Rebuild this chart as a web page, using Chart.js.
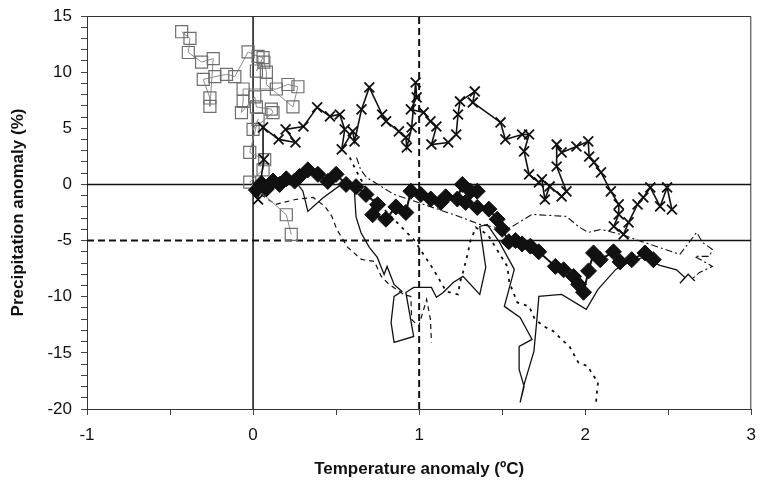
<!DOCTYPE html>
<html>
<head>
<meta charset="utf-8">
<script src="https://cdn.jsdelivr.net/npm/chart.js@4.4.1/dist/chart.umd.min.js"></script>
<style>
  html, body { margin: 0; padding: 0; background: #fff; }
  canvas { display: block; }
</style>
</head>
<body>
<canvas id="chart" width="761" height="488"></canvas>
<script>
// ---- Data ----
const xTicks = [-1, 0, 1, 2, 3];
const yTicks = [-20, -15, -10, -5, 0, 5, 10, 15];
const baseTemp = 0, limitTemp = 1;
const basePrecip = 0, limitPrecip = -5;

// open squares
const squareTemp = [0.23, 0.20, -0.02, 0.06, 0.07, -0.02, 0.03, 0.00, 0.12, 0.11, 0.02, 0.01, -0.07, -0.06, -0.06, 0.14, 0.21, 0.27, 0.24, 0.08, 0.08, 0.065, 0.02, 0.06, 0.03, -0.03, -0.11, -0.16, -0.23, -0.30, -0.26, -0.26, -0.24, -0.31, -0.39, -0.38, -0.43];
const squarePrecip = [-4.45, -2.7, 0.2, 1.3, 2.2, 2.85, 5.8, 4.9, 6.4, 6.7, 6.9, 7.8, 6.4, 7.4, 8.5, 8.5, 8.9, 8.7, 6.9, 8.9, 10.0, 10.9, 10.1, 11.3, 11.4, 11.8, 9.6, 9.8, 9.6, 9.35, 7.7, 6.95, 11.2, 10.9, 11.75, 13.0, 13.6];

// filled diamonds
const diamondTemp = [0.02, 0.05, 0.08, 0.12, 0.16, 0.20, 0.25, 0.28, 0.33, 0.39, 0.45, 0.50, 0.56, 0.62, 0.68, 0.75, 0.72, 0.80, 0.86, 0.92, 0.95, 1.01, 1.07, 1.13, 1.16, 1.23, 1.26, 1.31, 1.35, 1.28, 1.35, 1.42, 1.47, 1.50, 1.54, 1.58, 1.62, 1.67, 1.72, 1.82, 1.87, 1.93, 1.96, 1.99, 2.02, 2.05, 2.09, 2.17, 2.21, 2.28, 2.36, 2.41];
const diamondPrecip = [-0.5, 0.1, -0.4, 0.3, 0.0, 0.5, 0.3, 0.7, 1.3, 0.9, 0.27, 0.9, 0.0, -0.2, -0.9, -1.8, -2.7, -3.1, -2.0, -2.5, -0.6, -0.9, -1.3, -1.6, -1.1, -1.3, 0.0, -0.6, -0.6, -1.6, -2.05, -2.2, -3.1, -4.0, -5.1, -5.0, -5.3, -5.5, -6.0, -7.3, -7.6, -8.2, -8.9, -9.6, -7.7, -6.1, -6.7, -6.0, -6.9, -6.7, -6.1, -6.7];

// crosses
const crossTemp = [0.03, 0.065, 0.06, 0.154, 0.255, 0.196, 0.303, 0.386, 0.463, 0.522, 0.552, 0.534, 0.60, 0.611, 0.653, 0.70, 0.777, 0.801, 0.878, 0.92, 0.926, 0.955, 0.979, 0.985, 0.95, 1.027, 1.068, 1.104, 1.074, 1.175, 1.223, 1.234, 1.246, 1.335, 1.323, 1.49, 1.519, 1.62, 1.662, 1.632, 1.662, 1.721, 1.739, 1.757, 1.786, 1.858, 1.887, 1.828, 1.828, 1.858, 1.947, 2.018, 2.024, 2.053, 2.095, 2.154, 2.202, 2.202, 2.172, 2.231, 2.261, 2.315, 2.35, 2.392, 2.451, 2.493, 2.522];
const crossPrecip = [-1.34, 2.23, 5.08, 4.01, 3.74, 4.9, 5.16, 6.86, 6.06, 6.23, 4.9, 3.12, 4.72, 3.83, 6.68, 8.64, 6.23, 5.61, 4.72, 4.19, 3.29, 5.08, 9.08, 7.75, 6.68, 6.41, 5.61, 5.16, 3.56, 3.74, 4.45, 6.23, 7.39, 8.28, 7.3, 5.52, 4.01, 4.45, 4.45, 2.94, 0.89, 0.18, 0.45, -1.34, -0.18, -1.07, -0.62, 1.6, 3.56, 2.85, 3.38, 3.83, 2.49, 1.96, 1.07, -0.62, -1.78, -2.67, -3.74, -4.45, -3.38, -1.78, -1.16, -0.27, -1.96, -0.27, -2.23];

// solid line
const solidTemp = [0.02, 0.15, 0.26, 0.30, 0.33, 0.42, 0.55, 0.61, 0.62, 0.65, 0.70, 0.748, 0.789, 0.807, 0.849, 0.896, 0.849, 0.831, 0.849, 0.967, 0.92, 0.967, 1.074, 1.104, 1.145, 1.205, 1.264, 1.365, 1.401, 1.365, 1.41, 1.484, 1.573, 1.513, 1.608, 1.68, 1.602, 1.602, 1.632, 1.608, 1.632, 1.691, 1.709, 1.721, 1.858, 2.006, 2.077, 2.184, 2.273, 2.35, 2.45, 2.55, 2.60, 2.57, 2.62, 2.66];
const solidPrecip = [0.0, 0.4, 0.2, -0.6, -2.4, -1.2, 0.2, -0.6, -2.9, -4.3, -5.6, -6.5, -8.01, -7.3, -8.9, -9.53, -9.97, -12.29, -14.07, -13.54, -9.62, -9.17, -9.17, -10.06, -9.62, -8.73, -8.19, -9.8, -7.39, -3.74, -3.56, -5.16, -7.57, -10.86, -11.84, -13.8, -14.43, -16.47, -17.99, -19.41, -17.8, -14.87, -12.02, -9.97, -9.8, -11.13, -9.35, -7.57, -6.86, -6.5, -7.2, -7.6, -8.3, -8.8, -8.0, -8.6];

// short dashed line
const dashATemp = [0.047, 0.136, 0.255, 0.362, 0.433, 0.475, 0.504, 0.57, 0.653, 0.73, 0.772, 0.819, 0.908, 0.95, 0.955, 0.997, 1.045, 1.068, 1.074];
const dashAPrecip = [-0.89, -1.78, -1.34, -1.16, -1.96, -2.85, -4.01, -5.61, -6.68, -6.86, -8.19, -8.9, -9.8, -9.97, -12.02, -12.64, -10.24, -12.02, -14.07];

// dotted line
const dashBTemp = [0.582, 0.623, 0.70, 0.819, 0.967, 1.086, 1.163, 1.234, 1.246, 1.264, 1.294, 1.306, 1.341, 1.412, 1.531, 1.543, 1.591, 1.662, 1.697, 1.751, 1.81, 1.858, 1.905, 1.958, 2.018, 2.036, 2.077, 2.071, 2.065];
const dashBPrecip = [2.4, 1.16, -0.89, -2.67, -4.9, -7.57, -9.53, -9.8, -8.73, -7.84, -6.06, -5.16, -3.83, -4.45, -7.3, -8.73, -10.51, -10.86, -12.02, -12.64, -13.09, -13.8, -14.43, -15.85, -16.21, -16.74, -17.63, -18.43, -19.41];

// long dashed line
const dashCTemp = [0.623, 0.647, 0.683, 0.849, 1.027, 1.205, 1.365, 1.531, 1.68, 1.887, 1.958, 2.018, 2.095, 2.214, 2.392, 2.57, 2.671, 2.706, 2.766, 2.748, 2.659, 2.766, 2.688, 2.641];
const dashCPrecip = [2.4, 1.34, 0.62, -0.89, -1.78, -2.67, -3.56, -4.01, -2.67, -2.85, -3.74, -4.27, -4.01, -4.45, -5.34, -6.23, -4.27, -5.16, -5.79, -6.41, -6.41, -7.3, -7.84, -8.46];

// ---- Helpers ----
const pts = (xs, ys) => xs.map((x, i) => ({ x: x, y: ys[i] }));
const xMin = xTicks[0], xMax = xTicks[xTicks.length - 1];
const yMin = yTicks[0], yMax = yTicks[yTicks.length - 1];
const ink = '#111';

function refLine(data, dash, width) {
  return {
    data: data, showLine: true, pointRadius: 0, borderColor: ink,
    borderWidth: width, borderDash: dash, order: 20
  };
}
function trace(data, dash, width) {
  return {
    data: data, showLine: true, pointRadius: 0, borderColor: ink,
    borderWidth: width, borderDash: dash, order: 10
  };
}

// top + right frame of the plot box
const frame = {
  id: 'frame',
  afterDraw(chart) {
    const { ctx, chartArea: a } = chart;
    ctx.save();
    ctx.strokeStyle = '#333';
    ctx.lineWidth = 1;
    ctx.beginPath();
    ctx.moveTo(a.left, a.top + 0.5);
    ctx.lineTo(a.right - 0.5, a.top + 0.5);
    ctx.lineTo(a.right - 0.5, a.bottom);
    ctx.stroke();
    ctx.restore();
  }
};

Chart.defaults.font.family = "'Liberation Sans', Arial, sans-serif";
Chart.defaults.color = '#111';

new Chart(document.getElementById('chart'), {
  type: 'scatter',
  data: {
    datasets: [
      // reference lines
      refLine([{ x: baseTemp, y: yMin }, { x: baseTemp, y: yMax }], [], 1.5),
      refLine([{ x: xMin, y: basePrecip }, { x: xMax, y: basePrecip }], [], 1.5),
      refLine([{ x: limitTemp, y: yMin }, { x: limitTemp, y: yMax }], [7, 4], 2),
      refLine([{ x: xMin, y: limitPrecip }, { x: limitTemp, y: limitPrecip }], [7, 4], 2),
      refLine([{ x: limitTemp, y: limitPrecip }, { x: xMax, y: limitPrecip }], [], 1.5),
      // plain traces
      trace(pts(dashCTemp, dashCPrecip), [7, 3, 2, 3], 1.1),
      trace(pts(dashBTemp, dashBPrecip), [3, 5], 1.8),
      trace(pts(dashATemp, dashAPrecip), [5, 4], 1.2),
      trace(pts(solidTemp, solidPrecip), [], 1.3),
      {
        data: pts(squareTemp, squarePrecip), showLine: true,
        borderColor: '#8c8c8c', borderWidth: 1,
        pointStyle: 'rect', pointRadius: 8.5,
        pointBackgroundColor: 'rgba(255,255,255,0)',
        pointBorderColor: '#6e6e6e', pointBorderWidth: 1.2, order: 5
      },
      {
        data: pts(crossTemp, crossPrecip), showLine: true,
        borderColor: ink, borderWidth: 1.6,
        pointStyle: 'crossRot', pointRadius: 7,
        pointBorderColor: ink, pointBorderWidth: 1.8, order: 3
      },
      {
        data: pts(diamondTemp, diamondPrecip), showLine: true,
        borderColor: ink, borderWidth: 2,
        pointStyle: 'rectRot', pointRadius: 8,
        pointBackgroundColor: ink, pointBorderColor: ink, pointBorderWidth: 1, order: 1
      }
    ]
  },
  options: {
    responsive: false,
    animation: false,
    devicePixelRatio: 1,
    layout: { padding: { top: 16, right: 2, left: 0, bottom: 0 } },
    plugins: { legend: { display: false }, tooltip: { enabled: false } },
    scales: {
      x: {
        type: 'linear', min: xMin, max: xMax,
        afterFit: (s) => { s.height = 79; s.paddingLeft = 0; s.paddingRight = 0; },
        grid: { drawOnChartArea: false, drawTicks: true, tickLength: 6, color: '#444' },
        border: { color: '#333', width: 1 },
        ticks: {
          stepSize: 0.5, autoSkip: false, maxRotation: 0, padding: 10,
          font: { size: 17 }, color: '#111',
          callback: (v) => xTicks.includes(v) ? v : ''
        },
        title: {
          display: true, text: 'Temperature anomaly (ºC)',
          font: { size: 17, weight: 'bold' }, padding: { top: 0, bottom: 8 }
        }
      },
      y: {
        type: 'linear', min: yMin, max: yMax,
        afterFit: (s) => { s.width = 87; s.paddingTop = 0; s.paddingBottom = 0; },
        grid: { drawOnChartArea: false, drawTicks: true, tickLength: 6, color: '#444' },
        border: { color: '#333', width: 1 },
        ticks: {
          stepSize: 1, autoSkip: false, padding: 9,
          font: { size: 17 }, color: '#111',
          callback: (v) => yTicks.includes(v) ? v : ''
        },
        title: {
          display: true, text: 'Precipitation anomaly (%)',
          font: { size: 17, weight: 'bold' }, padding: { top: 8, bottom: 0 }
        }
      }
    }
  },
  plugins: [frame]
});
</script>
</body>
</html>
